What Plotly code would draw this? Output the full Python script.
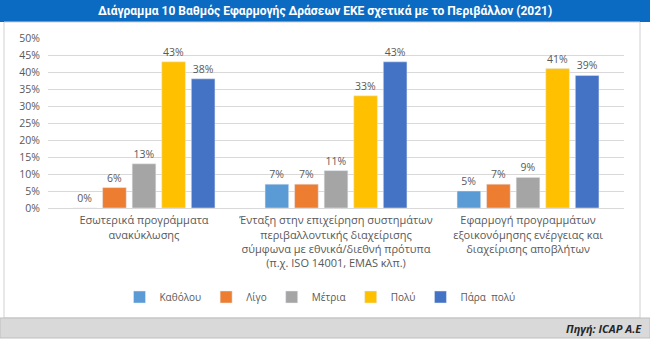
import plotly.graph_objects as go

categories = [
    "Εσωτερικά προγράμματα<br>ανακύκλωσης",
    "Ένταξη στην επιχείρηση συστημάτων<br>περιβαλλοντικής διαχείρισης<br>σύμφωνα με εθνικά/διεθνή πρότυπα<br>(π.χ. ISO 14001, EMAS κλπ.)",
    "Εφαρμογή προγραμμάτων<br>εξοικονόμησης ενέργειας και<br>διαχείρισης αποβλήτων",
]
series_names = ["Καθόλου", "Λίγο", "Μέτρια", "Πολύ", "Πάρα  πολύ"]
values = {
    "Καθόλου": [0, 7, 5],
    "Λίγο": [6, 7, 7],
    "Μέτρια": [13, 11, 9],
    "Πολύ": [43, 33, 41],
    "Πάρα  πολύ": [38, 43, 39],
}
colors = ["#5B9BD5", "#ED7D31", "#A5A5A5", "#FFC000", "#4472C4"]
y_ticks = [0, 5, 10, 15, 20, 25, 30, 35, 40, 45, 50]

FONT = "Open Sans"
fig = go.Figure()
for name, col in zip(series_names, colors):
    v = values[name]
    fig.add_trace(go.Bar(
        name=name, x=categories, y=v, marker_color=col,
        text=[f"{x}%" for x in v], textposition="outside",
        textfont=dict(size=10.5, color="#595959", family=FONT),
        cliponaxis=False,
    ))

PW, PH = 576, 170
fig.update_layout(
    width=650, height=341,
    margin=dict(l=48, r=26, t=38, b=133, autoexpand=False),
    paper_bgcolor="white", plot_bgcolor="white",
    barmode="group", bargap=0.23, bargroupgap=0.2,
    font=dict(family=FONT, size=10, color="#595959"),
    showlegend=True,
    legend=dict(orientation="h", x=(320-48)/PW, xanchor="center",
                yref="container", y=1-297/341, yanchor="middle",
                font=dict(size=10, color="#595959"), itemwidth=30,
                traceorder="normal"),
    xaxis=dict(showline=True, linecolor="#D9D9D9", tickfont=dict(size=11, color="#595959"),
               ticks="", fixedrange=True, ticklabelstandoff=2),
    yaxis=dict(range=[0, 50], tickvals=y_ticks, ticktext=[f"{t}%" for t in y_ticks],
               showgrid=True, gridcolor="#D9D9D9", zeroline=False,
               tickfont=dict(size=10.5, color="#595959"), ticks="", ticklabelstandoff=7),
    shapes=[
        dict(type="rect", xref="paper", yref="paper", x0=-48/PW, x1=1+26/PW,
             y0=1+16/PH, y1=1+38/PH, fillcolor="#0B6BC2", line_width=0, layer="below"),
        dict(type="rect", xref="paper", yref="paper", x0=-44/PW, x1=1+16/PW,
             y0=-110/PH, y1=1+16/PH, fillcolor="rgba(0,0,0,0)", line=dict(color="#D0D0D0", width=1)),
        dict(type="rect", xref="paper", yref="paper", x0=-48/PW, x1=1+26/PW,
             y0=-130/PH, y1=-110/PH, fillcolor="#D9D9D9", line=dict(color="#BFBFBF", width=1)),
    ],
    annotations=[
        dict(text="<b>Διάγραμμα 10 Βαθμός Εφαρμογής Δράσεων ΕΚΕ σχετικά με το Περιβάλλον (2021)</b>",
             xref="paper", yref="paper", x=(325-48)/PW, y=1+27/PH, showarrow=False,
             xanchor="center", yanchor="middle",
             font=dict(family="Roboto", size=12, color="white")),
        dict(text="<b><i>Πηγή: ICAP A.E</i></b>", xref="paper", yref="paper", x=1+20/PW, y=-120/PH,
             showarrow=False, xanchor="right", yanchor="middle",
             font=dict(family=FONT, size=11, color="#262626")),
    ],
)
fig.write_html("out.html")
